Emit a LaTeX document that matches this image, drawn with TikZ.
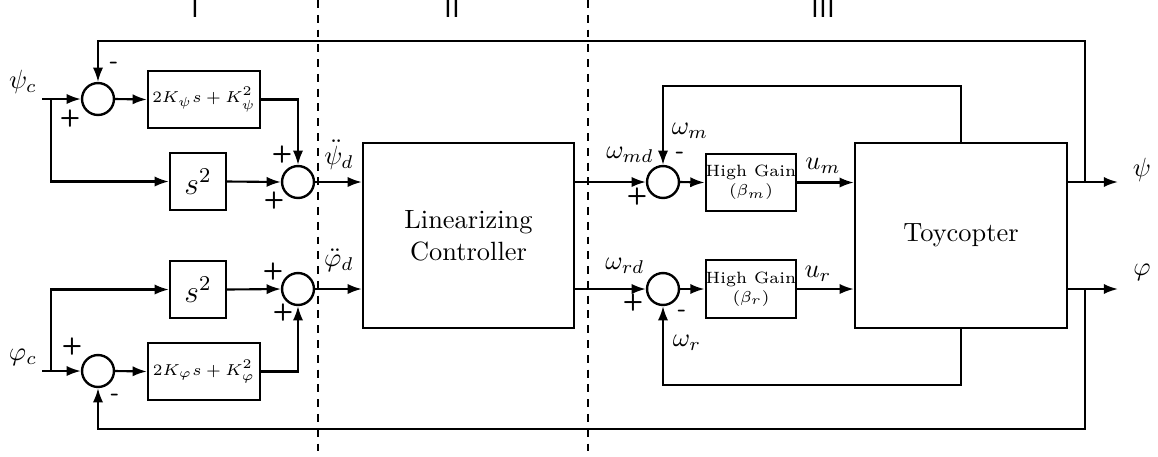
\documentclass[tikz,border=0pt]{standalone}
\usetikzlibrary{arrows.meta,calc}
\begin{document}
\begin{tikzpicture}[x=0.3788pt,y=-0.3788pt,
  line width=0.8pt,
  >={Latex[length=5.4pt,width=3.9pt]},
  sumnode/.style={circle,draw,line width=0.9pt,inner sep=0pt,minimum size=12.1pt},
  blk/.style={draw,line width=0.9pt,inner sep=0pt,minimum width=#1},
  smalltxt/.style={font=\fontsize{6.2}{7.2}\selectfont},
  sgn/.style={font=\sffamily\bfseries\small,inner sep=0pt},
  lbl/.style={inner sep=0pt},
  sep/.style={line width=0.7pt,dash pattern=on 3pt off 2.6pt},
  region/.style={font=\sffamily,anchor=base,inner sep=0pt}]
\useasboundingbox (0,0) rectangle (1158,456);

% separators
\draw[sep] (318,0) -- (318,456);
\draw[sep] (588,0) -- (588,456);
\node[region] (rI) at (195,17) {I};
\node[region] (rII) at (452,17) {II};
\node[region] (rIII) at (823,17) {III};

% blocks
\node[sumnode] (sA) at (98,99) {};
\node[sumnode] (sB) at (298,182) {};
\node[sumnode] (sC) at (298,289) {};
\node[sumnode] (sD) at (98,371) {};
\node[blk=42.4pt,minimum height=21.6pt,smalltxt] (kpsi) at (204,99.5) {$2K_\psi s+K_\psi^2$};
\node[blk=42.4pt,minimum height=21.6pt,smalltxt] (kphi) at (204,371.5) {$2K_\varphi s+K_\varphi^2$};
\node[blk=21.2pt,minimum height=21.6pt,font=\large] (s2a) at (198,181.5) {$s^2$};
\node[blk=21.2pt,minimum height=21.6pt,font=\large] (s2b) at (198,289.5) {$s^2$};
\node[blk=79.9pt,minimum height=70.1pt,align=center] (lc) at (468.5,235.5) {Linearizing\\Controller};
\node[sumnode] (sE) at (663,182) {};
\node[sumnode] (sF) at (663,289) {};
\node[blk=33pt,minimum height=21.6pt,smalltxt,align=center] (hgm) at (751,182.5) {High Gain\\$(\beta_m)$};
\node[blk=33pt,minimum height=21.9pt,smalltxt,align=center] (hgr) at (751,289) {High Gain\\$(\beta_r)$};
\node[blk=80.3pt,minimum height=70.1pt] (toy) at (961,235.5) {Toycopter};

% coordinates
\coordinate (inA) at (42,99);
\coordinate (brA) at (51,99);
\coordinate (inD) at (42,371);
\coordinate (brD) at (51,371);
\coordinate (fbT) at (1085,182);
\coordinate (fbTop) at (1085,41);
\coordinate (fbB) at (1085,289);
\coordinate (fbBot) at (1085,429);
\coordinate (outPsi) at (1118,182);
\coordinate (outPhi) at (1118,289);
\coordinate (loopT) at (961,86);
\coordinate (loopB) at (961,385);

% region I connectors
\draw[->] (inA) -- (sA.west);
\draw[->] (brA) |- (s2a.west);
\draw[->] (sA.east) -- (kpsi.west);
\draw[->] (kpsi.east) -| (sB.north);
\draw[->] (s2a.east) -- (sB.west);
\draw[->] (sB.east) -- (sB.east -| lc.west);
\draw[->] (inD) -- (sD.west);
\draw[->] (brD) |- (s2b.west);
\draw[->] (sD.east) -- (kphi.west);
\draw[->] (kphi.east) -| (sC.south);
\draw[->] (s2b.east) -- (sC.west);
\draw[->] (sC.east) -- (sC.east -| lc.west);

% region III connectors
\draw[->] (lc.east |- sE) -- (sE.west);
\draw[->] (lc.east |- sF) -- (sF.west);
\draw[->] (sE.east) -- (hgm.west);
\draw[->] (sF.east) -- (hgr.west);
\draw[->] (hgm.east) -- (hgm.east -| toy.west);
\draw[->] (hgr.east) -- (hgr.east -| toy.west);
\draw[->] (toy.north) -- (loopT) -| (sE.north);
\draw[->] (toy.south) -- (loopB) -| (sF.south);
\draw[->] (toy.east |- sE) -- (outPsi);
\draw[->] (toy.east |- sF) -- (outPhi);
\draw[->] (fbT) -- (fbTop) -| (sA.north);
\draw[->] (fbB) -- (fbBot) -| (sD.south);

% labels
\node[lbl] (lpc) at (23,82) {$\psi_c$};
\node[lbl] (lfc) at (23,357) {$\varphi_c$};
\node[lbl] (lpd) at (339,155) {$\ddot\psi_d$};
\node[lbl] (lfd) at (339,260) {$\ddot\varphi_d$};
\node[lbl] (lwm) at (690,131) {$\omega_m$};
\node[lbl] (lwmd) at (630,155) {$\omega_{md}$};
\node[lbl] (lum) at (823,166) {$u_m$};
\node[lbl] (lwrd) at (625,266) {$\omega_{rd}$};
\node[lbl] (lur) at (818,274) {$u_r$};
\node[lbl] (lwr) at (687,343) {$\omega_r$};
\node[lbl] (lpsi) at (1142,170) {$\psi$};
\node[lbl] (lphi) at (1142,272) {$\varphi$};

% signs
\node[sgn] (g1) at (114,65) {-};
\node[sgn] (g2) at (70,119) {+};
\node[sgn] (g3) at (282,155) {+};
\node[sgn] (g4) at (274,201) {+};
\node[sgn] (g5) at (72,347) {+};
\node[sgn] (g6) at (115,397) {-};
\node[sgn] (g7) at (273,272) {+};
\node[sgn] (g8) at (283,313) {+};
\node[sgn] (g9) at (680,155) {-};
\node[sgn] (g10) at (637,197) {+};
\node[sgn] (g11) at (633,303) {+};
\node[sgn] (g12) at (682,313) {-};
\end{tikzpicture}
\end{document}
